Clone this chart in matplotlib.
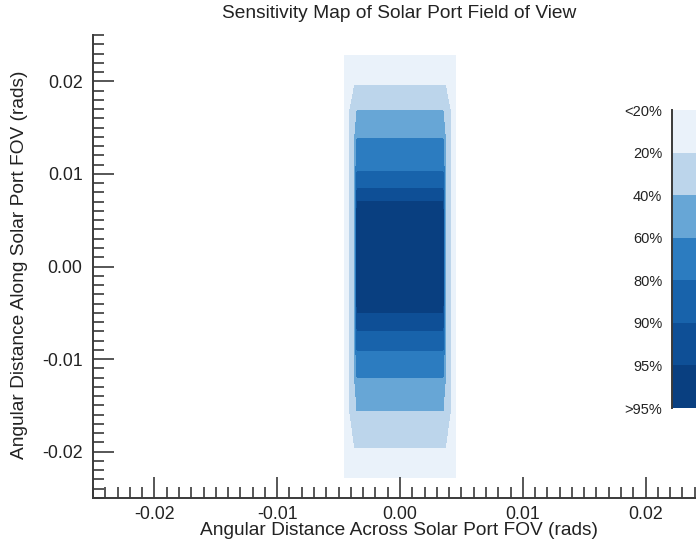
import numpy as np
import matplotlib
matplotlib.use("Agg")
import matplotlib.pyplot as plt
from matplotlib.colors import ListedColormap, BoundaryNorm
from matplotlib.cm import ScalarMappable
from matplotlib.ticker import MultipleLocator

plt.rcParams['font.family'] = ['Liberation Sans', 'DejaVu Sans']

# Relative response across the port (rads) -- fraction of peak
x_angle = [-0.0045, -0.0041, -0.0037, -0.0035, 0.0035, 0.0037, 0.0041, 0.0045]
x_resp = [0.10, 0.20, 0.40, 1.00, 1.00, 0.40, 0.20, 0.10]

# Relative response along the port (rads)
y_angle = [-0.0228, -0.0195, -0.0156, -0.0120, -0.0091, -0.0069, -0.0050, 0.0010,
           0.0070, 0.0084, 0.0103, 0.0138, 0.0168, 0.0195, 0.0228]
y_resp = [0.10, 0.20, 0.40, 0.60, 0.80, 0.90, 0.95, 1.00,
          0.95, 0.90, 0.80, 0.60, 0.40, 0.20, 0.10]

# Sensitivity bands and their labels
levels = [0.0, 0.20, 0.40, 0.60, 0.80, 0.90, 0.95, 1.0]
level_labels = ['<20%', '20%', '40%', '60%', '80%', '90%', '95%', '>95%']
band_colors = ['#eaf2fa', '#bcd5eb', '#67a6d6', '#2c7cc0', '#1863ab', '#0e4f96', '#093f80']

# 2-D map: a point is limited by the weaker of the two directions
sens = np.minimum.outer(np.array(y_resp), np.array(x_resp))

fig = plt.figure(figsize=(6.96, 5.48), dpi=100)
ax = fig.add_axes([93 / 696, 50 / 548, 614 / 696, 463 / 548])

cmap = ListedColormap(band_colors)
norm = BoundaryNorm(levels, cmap.N)
ax.contourf(x_angle, y_angle, sens, levels=levels, colors=band_colors)

ax.set_xlim(-0.025, 0.025)
ax.set_ylim(-0.025, 0.025)
ax.xaxis.set_major_locator(MultipleLocator(0.01))
ax.xaxis.set_minor_locator(MultipleLocator(0.001))
ax.yaxis.set_major_locator(MultipleLocator(0.01))
ax.yaxis.set_minor_locator(MultipleLocator(0.001))
ax.xaxis.set_major_formatter(lambda v, p: f'{v:.2f}')
ax.yaxis.set_major_formatter(lambda v, p: f'{v:.2f}')

axis_color = '#3a3a3a'
text_color = '#222222'
for side in ['top', 'right']:
    ax.spines[side].set_visible(False)
for side in ['left', 'bottom']:
    ax.spines[side].set_color(axis_color)
    ax.spines[side].set_linewidth(1.4)
ax.tick_params(which='major', direction='in', length=15, width=1.2,
               color=axis_color, labelsize=12.8, labelcolor=text_color)
ax.tick_params(axis='x', which='major', pad=6)
ax.tick_params(axis='y', which='major', pad=7.5)
ax.tick_params(which='minor', direction='in', length=8, width=1.2, color=axis_color)

ax.set_xlabel('Angular Distance Across Solar Port FOV (rads)', fontsize=13.8,
              color=text_color)
ax.set_ylabel('Angular Distance Along Solar Port FOV (rads)', fontsize=13.8,
              color=text_color)
ax.xaxis.set_label_coords(0.4976, -0.052)
ax.yaxis.set_label_coords(-0.106, 0.504)
fig.text(399 / 696, 1 - 13 / 548, 'Sensitivity Map of Solar Port Field of View',
         ha='center', va='center', fontsize=13.8, color=text_color)

# Colour key with equal-height bands, lightest at the top
cax = fig.add_axes([672 / 696, 140 / 548, 50 / 696, 298 / 548])
sm = ScalarMappable(norm=norm, cmap=cmap)
cbar = fig.colorbar(sm, cax=cax, ticks=levels, spacing='uniform')
cbar.outline.set_visible(False)
cax.invert_yaxis()
cax.yaxis.set_ticks_position('left')
cax.set_yticklabels(level_labels)
cax.tick_params(length=0, labelsize=10.5, pad=7, labelcolor=text_color)
cax.plot([0, 0], [0, 1], transform=cax.transAxes, color=axis_color,
         lw=1.4, clip_on=False)

fig.savefig('out.png', dpi=100)
